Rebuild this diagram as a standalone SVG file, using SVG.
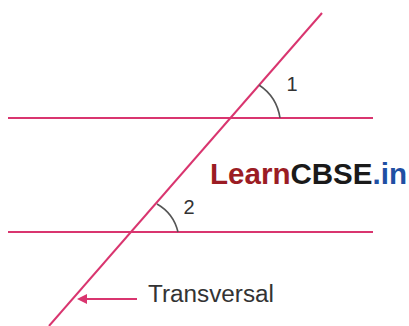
<svg xmlns="http://www.w3.org/2000/svg" width="409" height="326" viewBox="0 0 409 326">
<defs>
<style>
.ln{stroke:#d9356f;stroke-width:2;fill:none}
.arc{stroke:#555;stroke-width:1.6;fill:none}
.lbl{font-family:"Liberation Sans",Arial,sans-serif;fill:#333}
</style>
<marker id="ah" viewBox="0 0 10 10" refX="1" refY="5" markerWidth="5.5" markerHeight="5" orient="auto-start-reverse" markerUnits="strokeWidth">
<path d="M0,0 L10,5 L0,10 z" fill="#d9356f"/>
</marker>
</defs>
<rect width="409" height="326" fill="#fff"/>
<g id="connectors">
<line class="ln" x1="8" y1="118" x2="373" y2="118"/>
<line class="ln" x1="8" y1="232" x2="373" y2="232"/>
<line class="ln" x1="322" y1="13" x2="49" y2="326"/>
<line class="ln" x1="137" y1="299" x2="86" y2="299" stroke-width="2.2" marker-end="url(#ah)"/>
</g>
<g id="angle1">
<path class="arc" d="M 280 118 A 48 48 0 0 0 259 85"/>
<text class="lbl" x="292" y="91" font-size="20" text-anchor="middle">1</text>
</g>
<g id="angle2">
<path class="arc" d="M 178 232 A 44 44 0 0 0 157 204"/>
<text class="lbl" x="189" y="214" font-size="20" text-anchor="middle">2</text>
</g>
<g id="watermark">
<text x="210" y="184" font-family="'Liberation Sans',Arial,sans-serif" font-weight="bold" font-size="29" textLength="197" lengthAdjust="spacingAndGlyphs"><tspan fill="#9b1c24">Learn</tspan><tspan fill="#1a1a1a">CBSE</tspan><tspan fill="#1f4fa3">.in</tspan></text>
</g>
<g id="transversal-label">
<text class="lbl" x="148" y="302" font-size="23" textLength="126" lengthAdjust="spacingAndGlyphs">Transversal</text>
</g>
</svg>
